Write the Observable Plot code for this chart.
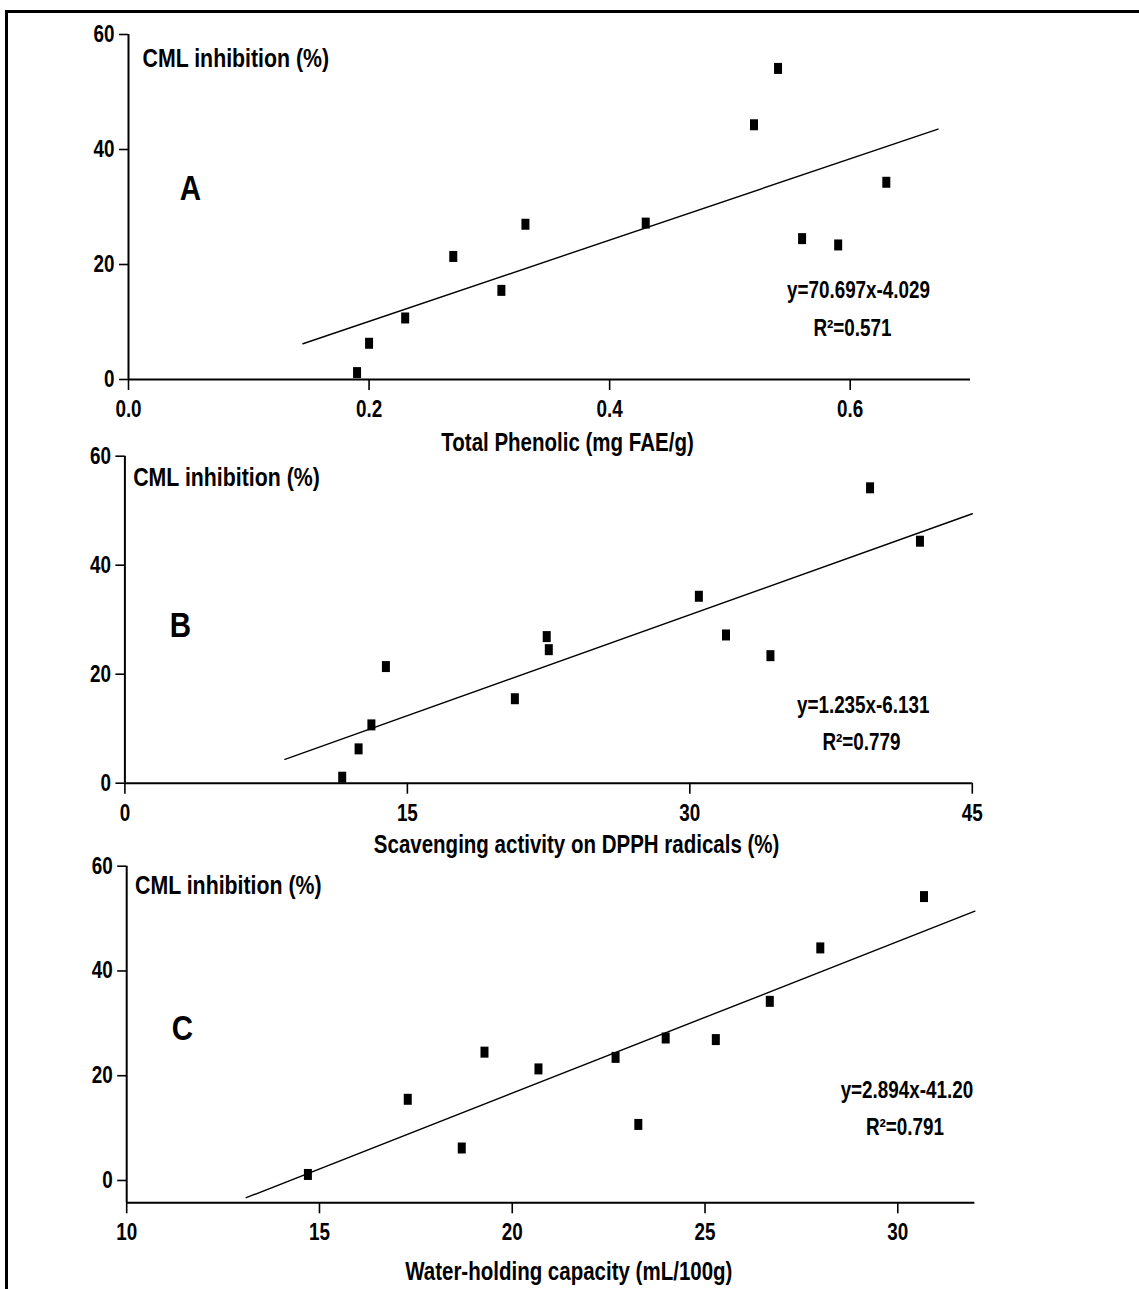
<!DOCTYPE html>
<html>
<head>
<meta charset="utf-8">
<script src="https://cdn.jsdelivr.net/npm/d3@7"></script>
<script src="https://cdn.jsdelivr.net/npm/@observablehq/plot@0.6"></script>
<style>
  html, body { margin: 0; padding: 0; background: #fff; color: #000; }
  #chart { position: relative; width: 1139px; height: 1289px; overflow: hidden; background: #fff; }
  #border { position: absolute; left: 5px; top: 10px; width: 1200px; height: 1400px;
            border-top: 3px solid #000; border-left: 3px solid #000; box-sizing: border-box; }
  .panel { position: absolute; left: 0; }
</style>
</head>
<body>
<div id="chart"><div id="border"></div></div>
<script>
// ---- Data ----
const yLabel = "CML inhibition (%)";
const yTicks = [0, 20, 40, 60];

// Panel A: Total phenolic
const xA = [0.19, 0.20, 0.23, 0.27, 0.31, 0.33, 0.43, 0.52, 0.54, 0.56, 0.59, 0.63];
const yA = [1.2, 6.3, 10.7, 21.4, 15.5, 27.0, 27.2, 44.3, 54.1, 24.5, 23.4, 34.3];
const xTicksA = [0.0, 0.2, 0.4, 0.6];
const fitA = {slope: 70.697, intercept: -4.029, from: 0.145, to: 0.673};
const eqA = ["y=70.697x-4.029", "R²=0.571"];
const titleA = "Total Phenolic (mg FAE/g)";

// Panel B: DPPH scavenging
const xB = [11.54, 12.41, 13.09, 13.86, 20.71, 22.40, 22.51, 30.48, 31.92, 34.28, 39.57, 42.22];
const yB = [1.1, 6.3, 10.7, 21.4, 15.5, 26.9, 24.5, 34.3, 27.2, 23.4, 54.2, 44.4];
const xTicksB = [0, 15, 30, 45];
const fitB = {slope: 1.235, intercept: -6.131, from: 8.5, to: 45};
const eqB = ["y=1.235x-6.131", "R²=0.779"];
const titleB = "Scavenging activity on DPPH radicals (%)";

// Panel C: Water-holding capacity
const xC = [14.70, 17.29, 18.69, 19.28, 20.68, 22.68, 23.27, 23.98, 25.28, 26.68, 27.99, 30.68];
const yC = [1.15, 15.5, 6.2, 24.5, 21.3, 23.5, 10.7, 27.2, 26.9, 34.2, 44.4, 54.2];
const xTicksC = [10, 15, 20, 25, 30];
const fitC = {slope: 2.894, intercept: -41.20, from: 13.1, to: 32};
const eqC = ["y=2.894x-41.20", "R²=0.791"];
const titleC = "Water-holding capacity (mL/100g)";

// ---- Rendering ----
const FONT = "'Liberation Sans', Arial, sans-serif";
const NARROW = 0.82; // horizontal squeeze to mimic a narrow bold face
const rectSymbol = { draw(ctx) { ctx.rect(-4, -5.5, 8, 11); } };

function narrowText(svg) {
  svg.querySelectorAll("text").forEach(t => {
    const tr = t.getAttribute("transform") || "";
    const xa = t.getAttribute("x"), ya = t.getAttribute("y");
    if (xa != null || ya != null) {
      const xx = +xa || 0, yy = +ya || 0;
      t.setAttribute("transform", `${tr} translate(${xx},${yy}) scale(${NARROW},1) translate(${-xx},${-yy})`);
    } else {
      t.setAttribute("transform", `${tr} scale(${NARROW},1)`);
    }
  });
}

function panel(cfg) {
  const pts = cfg.xs.map((x, i) => ({x, y: cfg.ys[i]}));
  const fit = [cfg.fit.from, cfg.fit.to].map(x => ({x, y: cfg.fit.slope * x + cfg.fit.intercept}));
  const L = cfg.layout;
  const svg = Plot.plot({
    width: 1139,
    height: L.height,
    marginLeft: L.ml, marginRight: L.mr, marginTop: L.mt, marginBottom: L.mb,
    x: {domain: cfg.xDomain},
    y: {domain: cfg.yDomain},
    style: `font-family: ${FONT}; font-weight: bold; background: transparent; overflow: visible; color: #000;`,
    marks: [
      Plot.ruleY([cfg.yDomain[0]], {stroke: "#000", strokeWidth: 2}),
      Plot.ruleX([cfg.xDomain[0]], {stroke: "#000", strokeWidth: 2}),
      Plot.axisX({ticks: cfg.xTicks, tickFormat: cfg.xFormat, tickSize: 11, tickPadding: 10,
                  fontSize: 23, strokeWidth: 1.6, label: null}),
      Plot.axisY({ticks: yTicks, tickSize: 9, tickPadding: 5, fontSize: 23, strokeWidth: 1.6, label: null}),
      Plot.line(fit, {x: "x", y: "y", stroke: "#000", strokeWidth: 1.4}),
      Plot.dot(pts, {x: "x", y: "y", symbol: rectSymbol, fill: "#000", stroke: null}),
      Plot.text([yLabel], {text: d => d, frameAnchor: "top-left", textAnchor: "start", lineAnchor: "middle",
                           dx: L.lab[0], dy: L.lab[1], fontSize: 26}),
      Plot.text([cfg.letter], {text: d => d, frameAnchor: "top-left", textAnchor: "middle", lineAnchor: "middle",
                               dx: L.letter[0], dy: L.letter[1], fontSize: 36}),
      Plot.text([cfg.eq[0]], {text: d => d, frameAnchor: "top-left", textAnchor: "middle", lineAnchor: "middle",
                              dx: L.eq[0], dy: L.eq[1], fontSize: 23}),
      Plot.text([cfg.eq[1]], {text: d => d, frameAnchor: "top-left", textAnchor: "middle", lineAnchor: "middle",
                              dx: L.r2[0], dy: L.r2[1], fontSize: 23}),
      Plot.text([cfg.title], {text: d => d, frameAnchor: "bottom", textAnchor: "middle", lineAnchor: "bottom",
                              dx: L.title[0], dy: L.title[1], fontSize: 25})
    ]
  });
  narrowText(svg);
  svg.classList.add("panel");
  svg.style.position = "absolute";
  svg.style.top = L.top + "px";
  svg.style.left = "0px";
  document.getElementById("chart").appendChild(svg);
}

panel({
  xs: xA, ys: yA, xTicks: xTicksA, xFormat: d3.format(".1f"), xDomain: [0, 0.7], yDomain: [0, 60],
  fit: fitA, eq: eqA, title: titleA, letter: "A",
  layout: {top: 0, height: 460, ml: 128, mr: 169, mt: 34, mb: 81,
           lab: [14, 24], letter: [62, 154], eq: [730, 256], r2: [724, 294], title: [18, 71]}
});
panel({
  xs: xB, ys: yB, xTicks: xTicksB, xFormat: d3.format("d"), xDomain: [0, 45], yDomain: [0, 60],
  fit: fitB, eq: eqB, title: titleB, letter: "B",
  layout: {top: 420, height: 450, ml: 124.4, mr: 167.2, mt: 35.7, mb: 87.3,
           lab: [8.3, 21], letter: [55.6, 169.3], eq: [738.3, 249.3], r2: [736.6, 286], title: [28, 70]}
});
panel({
  xs: xC, ys: yC, xTicks: xTicksC, xFormat: d3.format("d"), xDomain: [10, 32], yDomain: [-4.26, 60],
  fit: fitC, eq: eqC, title: titleC, letter: "C",
  layout: {top: 830, height: 459, ml: 126.2, mr: 164.6, mt: 35.7, mb: 86.7,
           lab: [8.3, 19.3], letter: [55.6, 162.6], eq: [780.2, 224.3], r2: [778.3, 261], title: [18, 77]}
});
</script>
</body>
</html>
